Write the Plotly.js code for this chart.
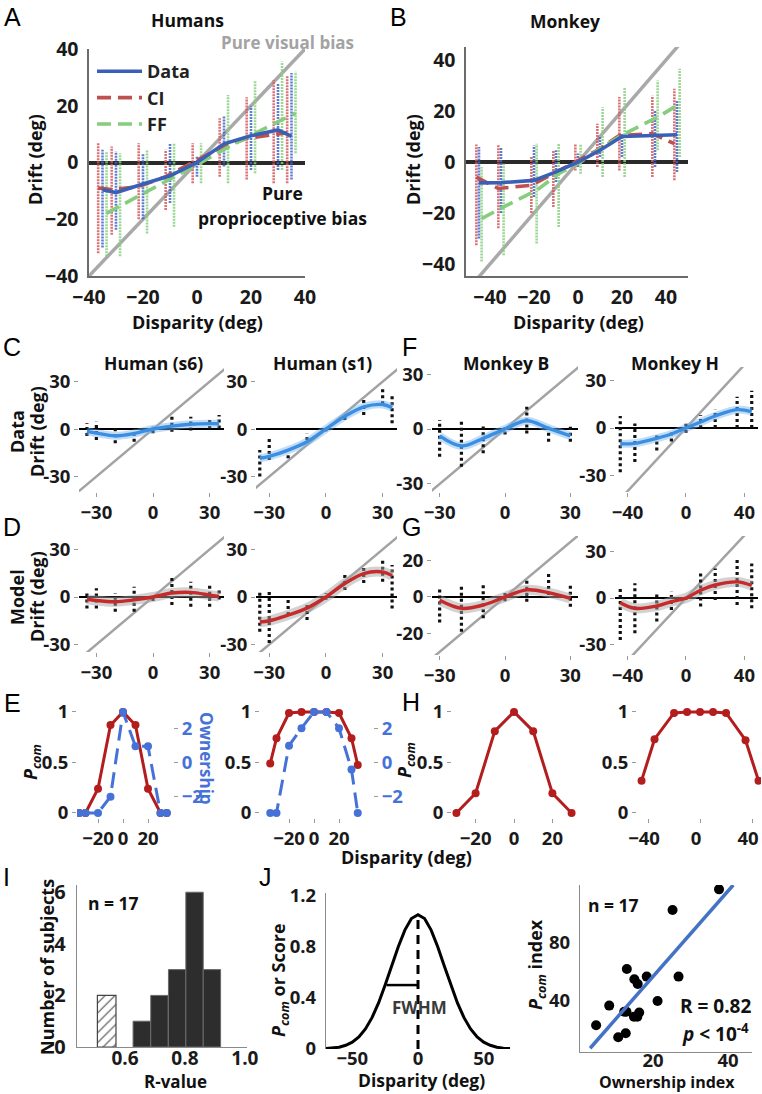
<!DOCTYPE html>
<html><head><meta charset="utf-8">
<script src="https://cdn.plot.ly/plotly-3.0.1.min.js"></script>
<style>html,body{margin:0;padding:0;background:#fff}#chart{width:762px;height:1094px}</style>
</head><body><div id="chart"></div>
<script>
// ---------------- DATA ----------------
// Panel A (Humans) disparities and means
const humanDisp = [-35,-30,-20,-10,0,10,20,30,35];
const humansData = [-9.6,-10.6,-7.6,-4.7,0,6.6,9.4,11.5,9.2];
const humansCI   = [-9,-9.5,-8.5,-5,0,5,8.5,10,10.5];
const humansFF   = [-17.9,-15.4,-10.2,-5.1,0,5.4,10.3,15.1,17.4];
// Panel A trial spreads (low / high)
const humansCILo   = [-32,-25.5,-20,-16.7,-7.3,-5,-6,-7.3,-7.3];
const humansCIHi   = [6.8,5.6,6.8,4.5,6.8,15.6,23,29,30.5];
const humansDataLo = [-30,-23.7,-20,-14.3,-5,-1.4,-2.6,-2.6,-6];
const humansDataHi = [4.5,3.9,3.3,6.8,2.1,16.2,19.7,28,31.5];
const humansFFLo   = [-33,-33,-25,-22.6,-7.3,-7.3,-3.8,-2.6,3.3];
const humansFFHi   = [3.9,3.3,4.5,6.8,6.8,23.8,29,35.6,32];

// Panel B (Monkey)
const monkDisp = [-45,-35,-20,-10,0,10,20,35,45];
const monkeyData = [-8.2,-8.1,-7.2,-3.9,0,4.6,10,10.4,10.7];
const monkeyCI   = [-5.9,-10.4,-9.1,-4.6,0,4.6,10.4,11.1,7.2];
const monkeyFF   = [-22.2,-17.6,-11.1,-4.6,0,5.9,11.1,17.6,22.8];
const monkeyCILo   = [-32.6,-26,-20,-17.6,-3.3,-2,-3.3,-5.9,-7.2];
const monkeyCIHi   = [6.9,6.9,2,4.6,7.2,15,25.5,26,28.7];
const monkeyDataLo = [-30,-20,-13.7,-7.8,-2,2,2,-2,-3.9];
const monkeyDataHi = [5.9,5.9,6.5,4.6,3.3,9.8,11.1,20.2,24.2];
const monkeyFFLo   = [-39,-36.6,-32,-25.5,-4.6,-5.9,-5.9,4.6,2];
const monkeyFFHi   = [-2,-0.7,7.2,7.2,7.2,21.5,29.4,32,36.6];

// Identity (pure visual bias) line
const identityLine = [-60,60];

// C: single-subject data fits and trial spreads
const s6DataFit = [-1.5,-2.6,-4.3,-2.8,0,1.8,3.0,3.4,3.3];
const s6DataLo  = [-4.4,-7,-9,-8,-2.7,-1.7,-1,0,0.4];
const s6DataHi  = [3.6,4.6,1.5,0.4,1.5,7.8,7.8,7.6,8.8];
const s1DataFit = [-18.5,-17.3,-13.3,-8,0,8,14,15.5,13.5];
const s1DataLo  = [-30,-19.6,-18.5,-7,-1.5,5.7,8.8,15.6,3.6];
const s1DataHi  = [-13.3,-5.9,-15,-3,0,8.8,18.3,25.7,22.5];
// F: monkeys data
const monkBDisp = [-30,-20,-10,0,10,20,30];
const mBDataFit = [-3.8,-9.3,-5.1,0,4.5,0.4,-3.8];
const mBDataLo  = [-15.1,-20.6,-13.3,-3,-2.4,-6.9,-6.9];
const mBDataHi  = [4.9,4.9,1.3,1,12.2,2.2,1.3];
const mHDataFit = [-10,-9.7,-6.5,-3.8,0,3.8,7.6,11.6,10.3];
const mHDataLo  = [-28,-21.5,-14.3,-8.6,-3,0,0,0,0];
const mHDataHi  = [7.6,2.9,-3.4,-1.3,3,8,11.6,19.8,23.6];
// D: model, humans
const s6ModelFit = [-1.3,-2.2,-3,-1.8,0,2.5,2.9,1.2,0.3];
const s6ModelLo  = [-7.2,-7.2,-9.3,-9.3,-2.5,-5,-6.1,-6.1,-1.5];
const s6ModelHi  = [3.3,5.5,2.3,6.5,0.6,12.8,9.7,8.6,4.4];
const s1ModelFit = [-15.8,-15,-11.4,-7,0,8.5,14.8,15.8,13.5];
const s1ModelLo  = [-22,-29,-11.4,-14.5,-1.7,4.4,8.8,9.7,-7.2];
const s1ModelHi  = [4,4,0,-5,2.5,13.9,20.2,24,20.2];
// G: model, monkeys
const mBModelFit = [-1.8,-6.2,-4.4,0,3.9,2.4,-0.8];
const mBModelLo  = [-14,-19,-11.6,-2.4,-2.6,1.1,-5.3];
const mBModelHi  = [5.6,5.6,6.6,2.2,10.2,13,7.5];
const mHModelFit = [-3,-6.6,-5.1,-2.3,0,5,8.3,10.3,8];
const mHModelLo  = [-26.8,-22.5,-15,-7.6,-1.3,-5.5,-1.3,-4.5,-6.5];
const mHModelHi  = [7.2,9.4,3,4,1.3,15.6,18.8,25,22];

// E / H: P_com and ownership
const s6Pcom = [0,0,0.24,0.87,1.0,0.87,0.24,0,0];
const s6Own  = [-3,-3,-3,-2.03,3,0.96,0.96,-3,-3];
const s1Pcom = [0.49,0.74,0.99,1.0,1.0,1.0,0.99,0.74,0.475];
const s1Own  = [-3,-3,1.0,2.04,3,3,2.04,-0.42,-3];
const mBPcom = [0,0.195,0.81,1.0,0.81,0.195,0];
const mHPcom = [0.32,0.73,0.99,1.0,1.0,1.0,0.99,0.72,0.32];

// I: histogram of R-values
const rExcluded = [0.539];
const nExcluded = [2];
const rIncluded = [0.656,0.715,0.774,0.832,0.890];
const nIncluded = [1,2,3,6,3];

// J left: illustrative P_com curve
const jDisp = [-70,-65,-60,-55,-50,-45,-40,-35,-30,-25,-20,-15,-10,-5,0,5,10,15,20,25,30,35,40,45,50,55,60,65,70];
const jScore = [0.003,0.006,0.014,0.029,0.054,0.094,0.157,0.245,0.36,0.50,0.65,0.80,0.93,1.02,1.05,1.02,0.93,0.80,0.65,0.50,0.36,0.245,0.157,0.094,0.054,0.029,0.014,0.006,0.003];
const fwhmX = [-24,0];
const fwhmY = [0.5,0.5];
const peakX = [0,0];
const peakY = [0,1.05];

// J right: ownership index vs P_com index
const ownIndex  = [37.6,25.2,13.0,18.3,26.8,15.0,15.9,21.2,8.3,12.3,12.9,16.3,14.9,15.8,4.8,12.7,10.7];
const pcomIndex = [117,102.8,62,56.8,56.8,55,51.7,40,36.8,32.6,32.6,32,29.2,29.2,23.2,17.7,15];
const fitX = [3.2,41.4];
const fitY = [7.4,120];

// ---------------- HELPERS ----------------
const W = 762, H = 1094;
const FONT = 'Open Sans, DejaVu Sans, sans-serif';
const xd = (a,b) => [a/W, b/W];
const yd = (top,bot) => [1-bot/H, 1-top/H];
function cols(xs, lo, hi, off){
  const x=[], y=[];
  xs.forEach((v,i)=>{ x.push(v+off, v+off, null); y.push(lo[i], hi[i], null); });
  return {x, y};
}
const tf = (size, color, w) => ({family: FONT, size: size, weight: w||700, color: color||'#1a1a1a'});

const traces = [];
function ax(n){ return n===1 ? {xaxis:'x', yaxis:'y'} : {xaxis:'x'+n, yaxis:'y'+n}; }

// ---- Panels A & B
function bigPanel(n, disp, lines, spreads, offs){
  traces.push(Object.assign({x: identityLine, y: identityLine, mode:'lines', line:{color:'#a9a9a9', width:3.5}, showlegend:false, hoverinfo:'skip'}, ax(n)));
  const colColors = ['rgba(212,88,92,0.85)','rgba(66,100,205,0.85)','rgba(136,208,128,0.85)'];
  spreads.forEach((s,k)=>{
    const c = cols(disp, s[0], s[1], offs[k]);
    traces.push(Object.assign({x:c.x, y:c.y, mode:'lines', line:{color:colColors[k], width:2.6, dash:'2px,1px'}, showlegend:false, hoverinfo:'skip'}, ax(n)));
  });
  const names = ['CI','FF','Data'];
  const specs = [
    {color:'#c0504d', dash:'14px,7px', off:offs[0], y:lines[0], rank:2},
    {color:'#86cd7e', dash:'14px,7px', off:offs[2], y:lines[1], rank:3},
    {color:'#3a5fb6', dash:'solid', off:offs[1], y:lines[2], rank:1}
  ];
  specs.forEach((s,k)=>{
    traces.push(Object.assign({x: disp.map(v=>v+s.off), y: s.y, mode:'lines', name: names[k],
      line:{color:s.color, width:3.6, dash:s.dash}, showlegend: n===1, legendrank: s.rank, hoverinfo:'skip'}, ax(n)));
  });
}
bigPanel(1, humanDisp, [humansCI, humansFF, humansData],
  [[humansCILo,humansCIHi],[humansDataLo,humansDataHi],[humansFFLo,humansFFHi]], [-1.6,0,1.5]);
bigPanel(2, monkDisp, [monkeyCI, monkeyFF, monkeyData],
  [[monkeyCILo,monkeyCIHi],[monkeyDataLo,monkeyDataHi],[monkeyFFLo,monkeyFFHi]], [-1.2,0,1.2]);

// ---- Drift panels (C, D, F, G)
function driftPanel(n, disp, fit, lo, hi, isModel){
  traces.push(Object.assign({x: identityLine, y: identityLine, mode:'lines', line:{color:'#a3a3a3', width:2.5}, showlegend:false, hoverinfo:'skip'}, ax(n)));
  const c = cols(disp, lo, hi, 0);
  traces.push(Object.assign({x:c.x, y:c.y, mode:'lines', line:{color:'#111', width:3.2, dash:'3px,3px'}, showlegend:false, hoverinfo:'skip'}, ax(n)));
  traces.push(Object.assign({x: disp, y: fit, mode:'lines', line:{color: isModel ? 'rgba(165,165,165,0.5)' : 'rgba(120,180,240,0.45)', width: isModel?10:8, shape:'spline', smoothing:1}, showlegend:false, hoverinfo:'skip'}, ax(n)));
  traces.push(Object.assign({x: disp, y: fit, mode:'lines', line:{color: isModel ? '#c62a2a' : '#3b8fe2', width:3.4, shape:'spline', smoothing:1}, showlegend:false, hoverinfo:'skip'}, ax(n)));
}
driftPanel(3, humanDisp, s6DataFit, s6DataLo, s6DataHi, false);
driftPanel(4, humanDisp, s1DataFit, s1DataLo, s1DataHi, false);
driftPanel(5, monkBDisp, mBDataFit, mBDataLo, mBDataHi, false);
driftPanel(6, monkDisp, mHDataFit, mHDataLo, mHDataHi, false);
driftPanel(7, humanDisp, s6ModelFit, s6ModelLo, s6ModelHi, true);
driftPanel(8, humanDisp, s1ModelFit, s1ModelLo, s1ModelHi, true);
driftPanel(9, monkBDisp, mBModelFit, mBModelLo, mBModelHi, true);
driftPanel(10, monkDisp, mHModelFit, mHModelLo, mHModelHi, true);

// ---- E / H panels
const RED = '#b31d1d', BLUE = '#4672d8';
function pcomTrace(n, disp, p){
  traces.push(Object.assign({x: disp, y: p, mode:'lines+markers', line:{color:RED, width:3}, marker:{color:RED, size:8}, showlegend:false, hoverinfo:'skip'}, ax(n)));
}
pcomTrace(11, humanDisp, s6Pcom);
traces.push({x: humanDisp, y: s6Own, xaxis:'x11', yaxis:'y15', mode:'lines+markers', line:{color:BLUE, width:3, dash:'16px,8px'}, marker:{color:BLUE, size:8}, showlegend:false, hoverinfo:'skip'});
pcomTrace(12, humanDisp, s1Pcom);
traces.push({x: humanDisp, y: s1Own, xaxis:'x12', yaxis:'y16', mode:'lines+markers', line:{color:BLUE, width:3, dash:'16px,8px'}, marker:{color:BLUE, size:8}, showlegend:false, hoverinfo:'skip'});
pcomTrace(13, monkBDisp, mBPcom);
pcomTrace(14, monkDisp, mHPcom);

// ---- I histogram
traces.push({type:'bar', x: rExcluded, y: nExcluded, width: 0.062, xaxis:'x17', yaxis:'y17',
  marker:{color:'#fff', pattern:{shape:'/', fgcolor:'#444', bgcolor:'#fff', size:7, solidity:0.15}, line:{color:'#444', width:1.2}}, showlegend:false, hoverinfo:'skip'});
traces.push({type:'bar', x: rIncluded, y: nIncluded, width: 0.058, xaxis:'x17', yaxis:'y17',
  marker:{color:'#2d2d2d', line:{color:'#6a6a6a', width:1}}, showlegend:false, hoverinfo:'skip'});

// ---- J left
traces.push({x: jDisp, y: jScore, xaxis:'x18', yaxis:'y18', mode:'lines', line:{color:'#000', width:3}, showlegend:false, hoverinfo:'skip'});
traces.push({x: fwhmX, y: fwhmY, xaxis:'x18', yaxis:'y18', mode:'lines', line:{color:'#000', width:2.5}, showlegend:false, hoverinfo:'skip'});
traces.push({x: peakX, y: peakY, xaxis:'x18', yaxis:'y18', mode:'lines', line:{color:'#000', width:3, dash:'9px,6px'}, showlegend:false, hoverinfo:'skip'});

// ---- J right
traces.push({x: ownIndex, y: pcomIndex, xaxis:'x19', yaxis:'y19', mode:'markers', marker:{color:'#000', size:10}, showlegend:false, hoverinfo:'skip'});
traces.push({x: fitX, y: fitY, xaxis:'x19', yaxis:'y19', mode:'lines', line:{color:'#4472c4', width:3.5}, showlegend:false, hoverinfo:'skip'});

// ---------------- LAYOUT ----------------
const layout = {
  width: W, height: H, margin:{l:0,r:0,t:0,b:0},
  paper_bgcolor:'#fff', plot_bgcolor:'rgba(0,0,0,0)',
  font:{family: FONT, color:'#1a1a1a'},
  showlegend: true,
  legend:{x: 92/W, y: 1-53/H, xanchor:'left', yanchor:'top', bgcolor:'rgba(0,0,0,0)',
    font: tf(18,'#222'), itemwidth: 45, tracegroupgap: 0, traceorder:'normal'},
  barmode:'overlay',
  annotations: [], shapes: []
};

const TS = 18.5;   // small-panel tick size
const OV = 'allow';
function bigAxes(n, xdom, xr, ydom, yr){
  const kx = n===1?'xaxis':'xaxis'+n, ky = n===1?'yaxis':'yaxis'+n;
  const idx = n===1?'':String(n);
  layout[kx] = {domain:xdom, range:xr, anchor:'y'+idx, tickvals:[-40,-20,0,20,40], showline:true, linecolor:'#6b6b6b', linewidth:1.6,
    showgrid:false, zeroline:false, ticks:'outside', ticklen:3, tickcolor:'rgba(0,0,0,0)', tickfont:tf(19.5), ticklabeloverflow:OV, fixedrange:true};
  layout[ky] = {domain:ydom, range:yr, anchor:'x'+idx, tickvals:[-40,-20,0,20,40], showline:true, linecolor:'#6b6b6b', linewidth:1.6,
    showgrid:false, zeroline:true, zerolinecolor:'#2a2a2a', zerolinewidth:4, ticks:'outside', ticklen:5, tickcolor:'rgba(0,0,0,0)', tickfont:tf(19.5), ticklabeloverflow:OV, fixedrange:true};
}
bigAxes(1, xd(89,305), [-40,40], yd(49,276), [-40,40]);
bigAxes(2, xd(466,688), [-50.9,50], yd(47,276), [-44.7,45.1]);

function smallAxes(n, xdom, xr, xt, ydom, yr, yt, zero){
  layout['xaxis'+n] = {domain:xdom, range:xr, anchor:'y'+n, tickvals:xt, showline:false, showgrid:false, zeroline:false,
    ticks:'outside', ticklen:4, tickcolor:'#9a9a9a', tickwidth:1, tickfont:tf(TS), ticklabeloverflow:OV, fixedrange:true};
  layout['yaxis'+n] = {domain:ydom, range:yr, anchor:'x'+n, tickvals:yt, ticktext: yt.map(String), showline:false, showgrid:false,
    zeroline: !!zero, zerolinecolor:'#000', zerolinewidth:2.8,
    ticks:'outside', ticklen:4, tickcolor:'#9a9a9a', tickwidth:1, tickfont:tf(TS), ticklabeloverflow:OV, fixedrange:true};
}
const t30 = [-30,0,30], t40 = [-40,0,40], t20 = [-20,0,20];
smallAxes(3, xd(79,224), [-39.2,37.6], t30, yd(367,492), [-39.8,39.2], t30, true);
smallAxes(4, xd(256,397), [-37,37.6], t30, yd(367,492), [-39.8,39.2], t30, true);
smallAxes(5, xd(432,578), [-33.5,33.5], t30, yd(366,492), [-34.4,34.4], t30, true);
smallAxes(6, xd(615,758), [-48.6,49.3], t40, yd(367,492), [-40.5,38.6], t30, true);
smallAxes(7, xd(79,224), [-39.2,37.6], t30, yd(536,652), [-34.7,38.5], t30, true);
smallAxes(8, xd(256,397), [-37,37.6], t30, yd(536,652), [-34.7,38.5], t30, true);
smallAxes(9, xd(432,578), [-33.5,33.5], t30, yd(536,655), [-31.7,33.3], t20, true);
smallAxes(10, xd(615,758), [-48.6,49.3], t40, yd(536,655), [-36.4,39.6], t30, true);
const pRange = [-0.05,1.069];
smallAxes(11, xd(77,173), [-36.8,40], t20, yd(705,818), pRange, [0,0.5,1], false);
smallAxes(12, xd(260,373), [-43.2,47.2], t20, yd(705,818), pRange, [0,0.5,1], false);
smallAxes(13, xd(452,576), [-32.3,32.3], t20, yd(705,818), pRange, [0,0.5,1], false);
smallAxes(14, xd(637,761), [-48.5,46.9], t40, yd(705,818), pRange, [0,0.5,1], false);
layout.xaxis14.ticklabelshift = -4;
const ownRange = [-3.3,3.414];
function ownAxis(n, base, pos){
  layout['yaxis'+n] = {overlaying:'y'+base, side:'right', anchor:'free', position: pos/W, range: ownRange, tickvals:[-2,0,2],
    showline:false, showgrid:false, zeroline:false, ticks:'outside', ticklen:4, tickcolor:'#9a9a9a', tickfont:tf(TS, BLUE), ticklabeloverflow:OV, fixedrange:true};
}
ownAxis(15, 11, 173);
ownAxis(16, 12, 373);

layout.xaxis17 = {domain:xd(77,247), range:[0.44,1.007], anchor:'y17', tickvals:[0.6,0.8,1.0], ticktext:['0.6','0.8','1.0'], showline:true, linecolor:'#8a8a8a', linewidth:1.2,
  showgrid:false, zeroline:false, ticks:'', ticklabelstandoff:-6, tickfont:tf(19), ticklabeloverflow:OV, fixedrange:true};
layout.yaxis17 = {domain:yd(885,1047), range:[0,6.28], anchor:'x17', tickvals:[0,2,4,6], showline:true, linecolor:'#8a8a8a', linewidth:1.2,
  showgrid:false, zeroline:false, ticks:'outside', ticklen:6, tickcolor:'rgba(0,0,0,0)', tickfont:tf(20), ticklabeloverflow:OV, fixedrange:true};
layout.xaxis18 = {domain:xd(326,510), range:[-70,70], anchor:'y18', tickvals:[-50,0,50], showline:false,
  showgrid:false, zeroline:false, ticks:'', ticklabelstandoff:-4, tickfont:tf(18.5), ticklabeloverflow:OV, fixedrange:true};
layout.yaxis18 = {domain:yd(893,1049), range:[0,1.22], anchor:'x18', tickvals:[0,0.4,0.8,1.2], ticktext:['0','0.4','0.8','1.2'], showline:true, linecolor:'#8a8a8a', linewidth:1.2,
  showgrid:false, zeroline:false, ticks:'outside', ticklen:5, tickcolor:'rgba(0,0,0,0)', tickfont:tf(18.5), ticklabeloverflow:OV, fixedrange:true};
layout.xaxis19 = {domain:xd(580,752), range:[0.5,46.4], anchor:'y19', tickvals:[20,40], showline:true, linecolor:'#8a8a8a', linewidth:1.2,
  showgrid:false, zeroline:false, ticks:'', ticklabelstandoff:-8, tickfont:tf(18.5), ticklabeloverflow:OV, fixedrange:true};
layout.yaxis19 = {domain:yd(885,1052), range:[4.8,120], anchor:'x19', tickvals:[40,80], showline:true, linecolor:'#8a8a8a', linewidth:1.2,
  showgrid:false, zeroline:false, ticks:'outside', ticklen:5, tickcolor:'rgba(0,0,0,0)', tickfont:tf(18.5), ticklabeloverflow:OV, fixedrange:true};

// ---------------- TEXT ----------------
function A(text, px, py, o){
  layout.annotations.push(Object.assign({text, x: px/W, y: 1-py/H, xref:'paper', yref:'paper', showarrow:false,
    xanchor:'center', yanchor:'middle', font: tf(17)}, o||{}));
}
const LET = {family:'Liberation Sans, Arial, sans-serif', size:25, color:'#000', weight:400};
[['A',12,17],['B',399,17],['C',12,347],['D',12,527],['E',12,703],['F',409,347],['G',411,527],['H',411,702],['I',6,877],['J',265,877]]
  .forEach(l=>A(l[0], l[1], l[2], {font:LET}));
A('Humans', 187, 20, {font: tf(17.5,'#111')});
A('Monkey', 565, 21, {font: tf(17.5,'#111')});
A('Pure visual bias', 287, 42, {font: tf(17,'#a3a3a3')});
A('Pure', 282, 193, {font: tf(17.5,'#111')});
A('proprioceptive bias', 282, 218, {font: tf(17.5,'#111')});
A('Drift (deg)', 35, 160, {textangle:-90, font: tf(18,'#111')});
A('Drift (deg)', 413, 160, {textangle:-90, font: tf(18,'#111')});
A('Disparity (deg)', 197, 322, {font: tf(18,'#111')});
A('Disparity (deg)', 578, 322, {font: tf(18,'#111')});
A('Human (s6)', 153, 363, {font: tf(17.5,'#111')});
A('Human (s1)', 322, 363, {font: tf(17.5,'#111')});
A('Monkey B', 506, 363, {font: tf(17.5,'#111')});
A('Monkey H', 675, 363, {font: tf(17.5,'#111')});
A('Data', 17, 432, {textangle:-90, font: tf(18,'#111')});
A('Drift (deg)', 37, 432, {textangle:-90, font: tf(18,'#111')});
A('Model', 17, 597, {textangle:-90, font: tf(18,'#111')});
A('Drift (deg)', 37, 597, {textangle:-90, font: tf(18,'#111')});
A('<i>P</i><sub><i>com</i></sub>', 31, 762, {textangle:-90, font: tf(18,'#111')});
A('<i>P</i><sub><i>com</i></sub>', 405, 760, {textangle:-90, font: tf(18,'#111')});
A('Ownership', 207, 758, {textangle:90, font: tf(17, BLUE)});
A('Disparity (deg)', 406, 857, {font: tf(18,'#111')});
A('Number of subjects', 47, 967, {textangle:-90, font: tf(18,'#111')});
A('R-value', 175, 1081, {font: tf(17,'#111')});
A('n = 17', 113, 903, {font: tf(17.5,'#111')});
A('<i>P</i><sub><i>com</i></sub> or Score', 279, 980, {textangle:-90, font: tf(18,'#111')});
A('Disparity (deg)', 421, 1080, {font: tf(17.5,'#111')});
A('FWHM', 419, 1007, {font: tf(17,'#3a3a3a')});
A('<i>P</i><sub><i>com</i></sub> index', 536, 965, {textangle:-90, font: tf(18,'#111')});
A('Ownership index', 667, 1082, {font: tf(16,'#111')});
A('n = 17', 613, 905, {font: tf(17.5,'#111')});
A('R = 0.82', 715, 1006, {font: tf(19,'#111')});
A('<i>p</i> < 10<sup>-4</sup>', 715, 1033, {font: tf(19,'#111')});

Plotly.newPlot('chart', traces, layout, {displayModeBar:false, staticPlot:true});
</script></body></html>
